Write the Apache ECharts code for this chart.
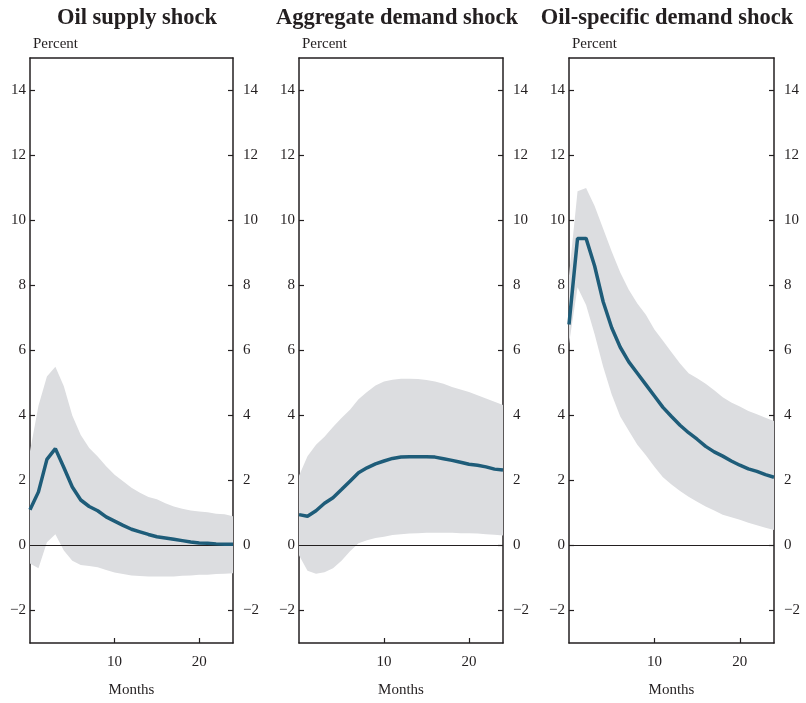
<!DOCTYPE html>
<html><head><meta charset="utf-8">
<script src="https://cdn.jsdelivr.net/npm/echarts@6/dist/echarts.min.js"></script>
<style>html,body{margin:0;padding:0;background:#fff}#c{width:806px;height:703px}</style>
</head><body><div id="c"></div><script>
const months = [0,1,2,3,4,5,6,7,8,9,10,11,12,13,14,15,16,17,18,19,20,21,22,23,24];
const panelTitles = ['Oil supply shock','Aggregate demand shock','Oil-specific demand shock'];
const yTicks = [-2,0,2,4,6,8,10,12,14];
const xTicks = [10,20];

const supplyLine  = [1.1,1.65,2.65,2.98,2.4,1.8,1.4,1.2,1.07,0.88,0.75,0.62,0.5,0.42,0.34,0.27,0.23,0.19,0.15,0.11,0.08,0.07,0.05,0.04,0.04];
const supplyUpper = [2.9,4.3,5.2,5.5,4.9,4.0,3.4,3.0,2.74,2.44,2.18,1.98,1.78,1.62,1.49,1.42,1.3,1.2,1.13,1.08,1.05,1.02,0.98,0.96,0.9];
const supplyLower = [-0.55,-0.7,0.1,0.35,-0.15,-0.47,-0.6,-0.63,-0.67,-0.75,-0.83,-0.88,-0.92,-0.94,-0.95,-0.95,-0.95,-0.95,-0.93,-0.92,-0.9,-0.9,-0.88,-0.87,-0.85];

const demandLine  = [0.95,0.9,1.07,1.3,1.47,1.72,1.98,2.24,2.39,2.51,2.6,2.68,2.72,2.73,2.73,2.73,2.72,2.67,2.62,2.56,2.5,2.47,2.42,2.35,2.32];
const demandUpper = [2.15,2.75,3.1,3.35,3.65,3.92,4.18,4.5,4.72,4.92,5.05,5.1,5.13,5.13,5.12,5.09,5.05,4.98,4.88,4.8,4.72,4.62,4.52,4.42,4.32];
const demandLower = [-0.3,-0.78,-0.87,-0.82,-0.7,-0.47,-0.18,0.07,0.16,0.23,0.27,0.32,0.35,0.37,0.38,0.39,0.39,0.39,0.39,0.38,0.38,0.37,0.35,0.33,0.31];

const specificLine  = [6.8,9.45,9.45,8.6,7.5,6.7,6.1,5.65,5.3,4.95,4.6,4.25,3.97,3.7,3.47,3.27,3.05,2.88,2.75,2.6,2.47,2.36,2.28,2.18,2.1];
const specificUpper = [8.3,10.9,11.0,10.45,9.75,9.05,8.4,7.87,7.45,7.1,6.65,6.3,5.95,5.6,5.3,5.15,4.98,4.78,4.56,4.4,4.28,4.14,4.04,3.93,3.83];
const specificLower = [6.2,7.95,7.4,6.5,5.5,4.65,3.97,3.53,3.1,2.78,2.42,2.1,1.88,1.68,1.5,1.35,1.2,1.08,0.95,0.87,0.79,0.7,0.62,0.55,0.48];

const panels = [
  {line: supplyLine, upper: supplyUpper, lower: supplyLower},
  {line: demandLine, upper: demandUpper, lower: demandLower},
  {line: specificLine, upper: specificUpper, lower: specificLower}
];

const FONT = 'Liberation Serif';
const INK = '#231f20';
const gridPos = [{left:30,width:203},{left:299,width:204},{left:569,width:205}];
const titleCenters = [132, 392, 662];

const grid = [], xAxis = [], yAxis = [], series = [], title = [], graphic = [];
gridPos.forEach((g, i) => {
  grid.push({left: g.left, width: g.width, top: 58, height: 589, containLabel: false});
  title.push({text: panelTitles[i], left: titleCenters[i], top: 2, textAlign: 'center',
    textStyle: {fontFamily: FONT, fontSize: 22.5, fontWeight: 'bold', color: INK}});
  graphic.push({type: 'text', left: g.left + 3, top: 37,
    style: {text: 'Percent', font: '15px "' + FONT + '"', fill: INK}});
  const axLine = {show: true, onZero: false, lineStyle: {color: INK, width: 1.5}};
  xAxis.push({gridIndex: i, type: 'value', min: 0, max: 24, position: 'bottom',
    axisLine: axLine,
    axisTick: {show: true, inside: true, length: 5, customValues: xTicks, lineStyle: {color: INK, width: 1.2}},
    axisLabel: {customValues: xTicks, fontFamily: FONT, fontSize: 15, color: INK, margin: 12},
    splitLine: {show: false},
    name: 'Months', nameLocation: 'middle', nameGap: 40,
    nameTextStyle: {fontFamily: FONT, fontSize: 15, color: INK}});
  xAxis.push({gridIndex: i, type: 'value', min: 0, max: 24, position: 'top',
    axisLine: axLine, axisTick: {show: false}, axisLabel: {show: false}, splitLine: {show: false}});
  const yCommon = {gridIndex: i, type: 'value', min: -3, max: 15,
    axisLine: axLine,
    axisTick: {show: true, inside: true, length: 5, customValues: yTicks, lineStyle: {color: INK, width: 1.2}},
    splitLine: {show: false}};
  yAxis.push(Object.assign({}, yCommon, {position: 'left',
    axisLabel: {customValues: yTicks, fontFamily: FONT, fontSize: 15, color: INK, margin: 4,
      formatter: v => String(v).replace('-', '\u2212')}}));
  yAxis.push(Object.assign({}, yCommon, {position: 'right',
    axisLabel: {customValues: yTicks, fontFamily: FONT, fontSize: 15, color: INK, margin: 10,
      formatter: v => String(v).replace('-', '\u2212')}}));
  const p = panels[i];
  const bandData = months.map((m, k) => [m, p.lower[k], p.upper[k]]);
  series.push({type: 'custom', xAxisIndex: 2*i, yAxisIndex: 2*i, silent: true, z: 1,
    data: bandData, encode: {x: 0, y: [1, 2]},
    renderItem: (params, api) => {
      if (params.dataIndex !== 0) return null;
      const pts = [];
      bandData.forEach(d => pts.push(api.coord([d[0], d[2]])));
      for (let k = bandData.length - 1; k >= 0; k--) pts.push(api.coord([bandData[k][0], bandData[k][1]]));
      return {type: 'polygon', shape: {points: pts}, style: {fill: '#dcdde0'}};
    }});
  series.push({type: 'line', xAxisIndex: 2*i, yAxisIndex: 2*i,
    data: months.map((m, k) => [m, p.line[k]]), symbol: 'none',
    lineStyle: {color: '#1e5c79', width: 3.5}, z: 3,
    markLine: {silent: true, symbol: 'none', label: {show: false},
      lineStyle: {color: INK, width: 1, type: 'solid'}, data: [{yAxis: 0}], z: 2}});
});

const chart = echarts.init(document.getElementById('c'));
chart.setOption({animation: false, backgroundColor: '#fff', title, grid, xAxis, yAxis, series, graphic});
</script></body></html>
